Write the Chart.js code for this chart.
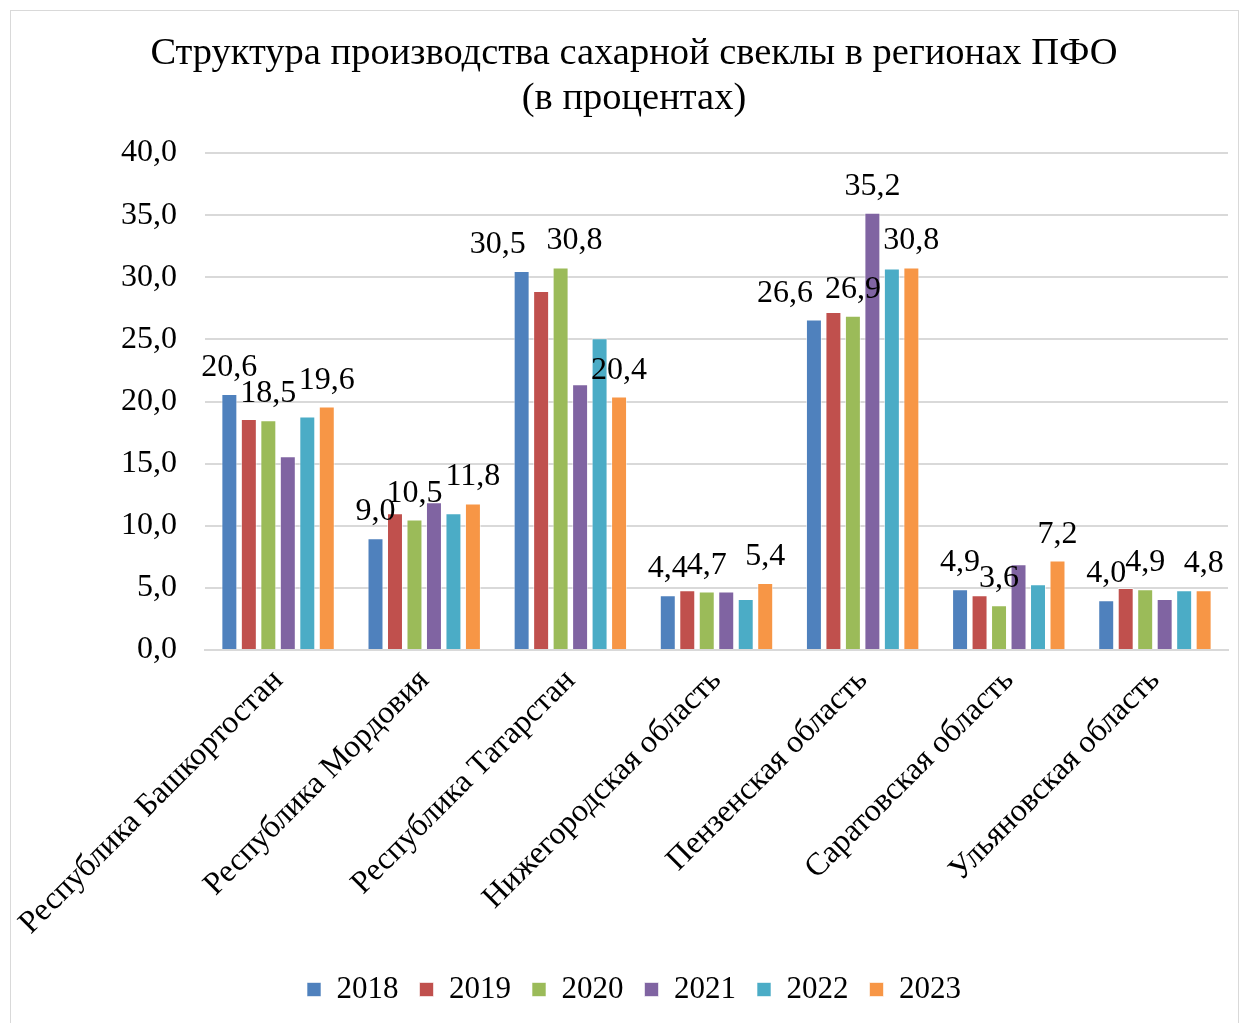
<!DOCTYPE html>
<html lang="ru">
<head>
<meta charset="utf-8">
<script src="https://cdn.jsdelivr.net/npm/chart.js@4/dist/chart.umd.min.js"></script>
<style>
  html, body { margin: 0; padding: 0; background: #fff; }
  #wrap { position: relative; width: 1243px; height: 1023px; overflow: hidden; }
  #frame { position: absolute; left: 10px; top: 10px; width: 1229px; height: 1030px;
           border: 1px solid #d9d9d9; box-sizing: border-box; }
  #grafico { position: absolute; left: 0; top: 0; }
</style>
</head>
<body>
<div id="wrap">
  <div id="frame"></div>
  <canvas id="grafico" width="1243" height="1023"></canvas>
</div>
<script>
const regiones = [
    "Республика Башкортостан",
    "Республика Мордовия",
    "Республика Татарстан",
    "Нижегородская область",
    "Пензенская область",
    "Саратовская область",
    "Ульяновская область"
];
const anios = ["2018", "2019", "2020", "2021", "2022", "2023"];

const v2018 = [20.6, 9.0, 30.5, 4.4, 26.6, 4.9, 4.0];
const v2019 = [18.6, 11.0, 28.9, 4.8, 27.2, 4.4, 5.0];
const v2020 = [18.5, 10.5, 30.8, 4.7, 26.9, 3.6, 4.9];
const v2021 = [15.6, 11.9, 21.4, 4.7, 35.2, 6.9, 4.1];
const v2022 = [18.8, 11.0, 25.1, 4.1, 30.7, 5.3, 4.8];
const v2023 = [19.6, 11.8, 20.4, 5.4, 30.8, 7.2, 4.8];

// which bars carry a value label (same as in the original picture)
const etq2018 = [1, 1, 1, 1, 1, 1, 1];
const etq2019 = [0, 0, 0, 0, 0, 0, 0];
const etq2020 = [1, 1, 1, 1, 1, 1, 1];
const etq2021 = [0, 0, 0, 0, 1, 0, 0];
const etq2022 = [0, 0, 0, 0, 0, 0, 0];
const etq2023 = [1, 1, 1, 1, 1, 1, 1];

const ticksY = [0, 5, 10, 15, 20, 25, 30, 35, 40];

const series = [v2018, v2019, v2020, v2021, v2022, v2023];
const etiquetas = [etq2018, etq2019, etq2020, etq2021, etq2022, etq2023];
const colores = ["#4F81BD", "#C0504D", "#9BBB59", "#8064A2", "#4BACC6", "#F79646"];

const fuente = "'Liberation Serif', 'Times New Roman', serif";
const coma = v => v.toFixed(1).replace(".", ",");

Chart.defaults.font.family = fuente;
Chart.defaults.color = "#000";

// labels moved sideways so they don't collide (serie:categoria -> px)
const desplazar = { "0:2": -24, "2:2": 14, "0:4": -29 };

const pluginEtiquetas = {
    id: "etiquetas",
    afterDatasetsDraw(chart) {
        const ctx = chart.ctx;
        ctx.save();
        ctx.font = "32px " + fuente;
        ctx.fillStyle = "#000";
        ctx.textAlign = "center";
        ctx.textBaseline = "alphabetic";
        chart.data.datasets.forEach((ds, i) => {
            const meta = chart.getDatasetMeta(i);
            meta.data.forEach((bar, j) => {
                if (!etiquetas[i][j]) return;
                const dx = desplazar[i + ":" + j] || 0;
                ctx.fillText(coma(ds.data[j]), bar.x + dx, bar.y - 18);
            });
        });
        ctx.restore();
    }
};

const ctx = document.getElementById("grafico").getContext("2d");
new Chart(ctx, {
    type: "bar",
    data: {
        labels: regiones,
        datasets: anios.map((a, i) => ({
            label: a,
            data: series[i],
            backgroundColor: colores[i],
            borderColor: "rgba(255,255,255,0.6)",
            borderWidth: 1,
            categoryPercentage: 0.8,
            barPercentage: 0.82
        }))
    },
    options: {
        responsive: false,
        animation: false,
        layout: { padding: { top: 31, right: 15, bottom: 8, left: 40 } },
        plugins: {
            title: {
                display: true,
                text: ["Структура производства сахарной свеклы в регионах ПФО", "(в процентах)"],
                color: "#000",
                font: { family: fuente, size: 38.5, weight: "normal", lineHeight: 1.17 },
                padding: { top: 0, bottom: 32 }
            },
            legend: {
                position: "bottom",
                labels: {
                    color: "#000",
                    font: { family: fuente, size: 31 },
                    boxWidth: 14,
                    boxHeight: 14,
                    padding: 21
                }
            },
            tooltip: { enabled: false }
        },
        scales: {
            x: {
                grid: { display: false },
                border: { color: "#d9d9d9", width: 2 },
                ticks: {
                    color: "#000",
                    font: { family: fuente, size: 32 },
                    minRotation: 45,
                    maxRotation: 45,
                    padding: 4
                },
                afterFit: scale => { scale.height = 303; }
            },
            y: {
                min: 0,
                max: 40,
                afterBuildTicks: scale => { scale.ticks = ticksY.map(v => ({ value: v })); },
                grid: { color: "#d9d9d9", lineWidth: 2, drawTicks: false },
                border: { display: false },
                ticks: {
                    color: "#000",
                    font: { family: fuente, size: 32 },
                    padding: 28,
                    callback: value => coma(value)
                },
                afterFit: scale => { scale.width = 165; }
            }
        }
    },
    plugins: [pluginEtiquetas]
});
</script>
</body>
</html>
